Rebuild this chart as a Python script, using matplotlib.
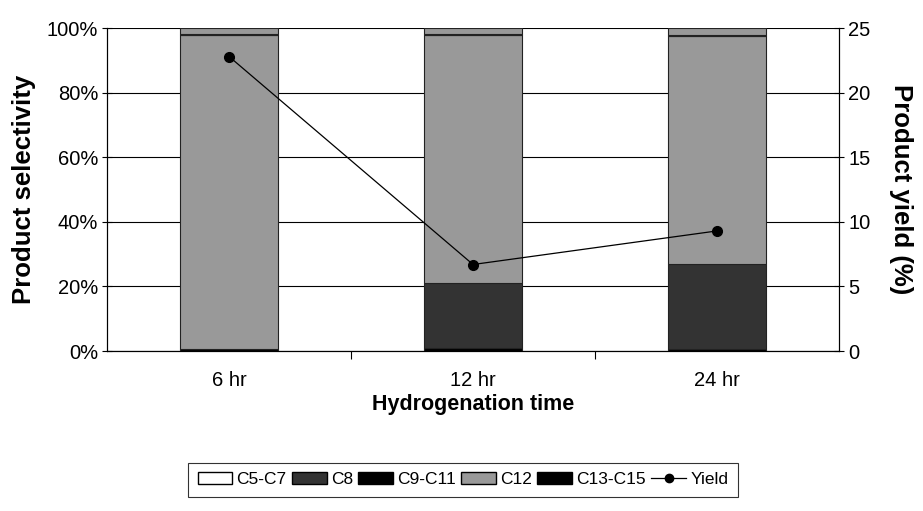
import matplotlib.pyplot as plt
import numpy as np
from matplotlib.patches import Patch
from matplotlib.lines import Line2D

plt.rcParams['font.family'] = ['Liberation Sans', 'DejaVu Sans']

# podatki
casi = ['6 hr', '12 hr', '24 hr']
c5_c7 = [0.0, 0.0, 0.0]
c9_c11 = [0.5, 1.0, 0.5]
c8 = [0.0, 20.2, 26.5]
c12 = [97.5, 76.8, 70.5]
c13_c15 = [0.3, 0.3, 0.3]
ostalo = [1.7, 1.7, 2.2]
izkoristek = [22.8, 6.7, 9.3]

fig = plt.figure(figsize=(9.23, 5.11), dpi=100)
ax = fig.add_axes([0.116, 0.313, 0.793, 0.632])

x = np.arange(len(casi))
w = 0.4
sloji = [
    (c5_c7, 'white'),
    (c9_c11, 'black'),
    (c8, '#333333'),
    (c12, '#999999'),
    (c13_c15, 'black'),
    (ostalo, '#999999'),
]
dno = np.zeros(len(casi))
for vals, barva in sloji:
    ax.bar(x, vals, w, bottom=dno, color=barva, edgecolor='#222222', linewidth=0.8, zorder=3)
    dno += np.array(vals)

ax.set_xlim(-0.5, 2.5)
ax.set_ylim(0, 100)
ax.set_yticks(range(0, 101, 20))
ax.set_yticklabels([f'{v}%' for v in range(0, 101, 20)], fontsize=14.5)
ax.yaxis.grid(True, color='black', linewidth=0.8, zorder=0)
ax.set_xticks(x)
ax.set_xticklabels(casi, fontsize=14.5)
ax.tick_params(axis='x', length=0, pad=14)
ax.set_xticks([0.5, 1.5], minor=True)
ax.tick_params(axis='x', which='minor', length=6, direction='out', width=0.8)
ax.tick_params(axis='y', length=7, direction='inout', width=0.8, pad=3)
ax.spines['top'].set_visible(False)
ax.set_xlabel('Hydrogenation time', fontsize=15.5, fontweight='bold', labelpad=3)
ax.set_ylabel('Product selectivity', fontsize=18.5, fontweight='bold', labelpad=8)

ax2 = ax.twinx()
ax2.plot(x, izkoristek, color='black', marker='o', markersize=7, linewidth=0.9, zorder=5)
ax2.set_ylim(0, 25)
ax2.set_yticks(range(0, 26, 5))
ax2.tick_params(axis='y', labelsize=14.5, length=7, direction='inout', width=0.8, pad=3)
ax2.spines['top'].set_visible(False)
ax2.set_ylabel('Product yield (%)', fontsize=18.5, fontweight='bold', rotation=270, labelpad=31)

# legenda
rocaji = [
    Patch(facecolor='white', edgecolor='black', label='C5-C7'),
    Patch(facecolor='#333333', edgecolor='black', label='C8'),
    Patch(facecolor='black', edgecolor='black', label='C9-C11'),
    Patch(facecolor='#999999', edgecolor='black', label='C12'),
    Patch(facecolor='black', edgecolor='black', label='C13-C15'),
    Line2D([0], [0], color='black', marker='o', markersize=6, linewidth=0.9, label='Yield'),
]
leg = fig.legend(handles=rocaji, loc='center', bbox_to_anchor=(0.5016, 0.061), ncol=6,
                 fontsize=12.5, frameon=True, fancybox=False, edgecolor='black',
                 handlelength=2.0, handletextpad=0.25, columnspacing=0.3, borderpad=0.55,
                 borderaxespad=0)
leg.get_frame().set_linewidth(0.8)

fig.savefig('out.png', dpi=100)
